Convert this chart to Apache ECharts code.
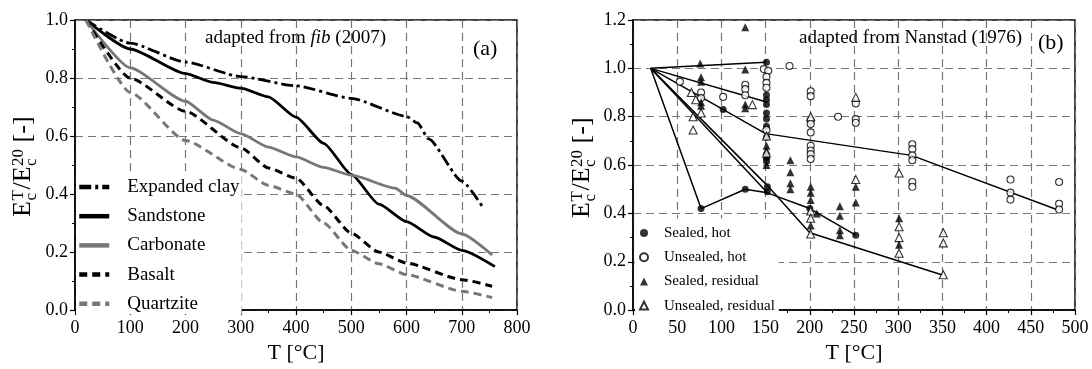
<!DOCTYPE html>
<html>
<head>
<meta charset="utf-8">
<script src="https://cdn.jsdelivr.net/npm/echarts@6/dist/echarts.min.js"></script>
<style>
  html, body { margin: 0; padding: 0; background: #fff; }
  #chart { width: 1092px; height: 369px; }
</style>
</head>
<body>
<div id="chart"></div>
<script>
// (a) adapted from fib (2007): [T in °C, Ec(T)/Ec(20)]
const expandedClay = [[20, 1], [100, 0.92], [200, 0.855], [300, 0.805], [400, 0.773], [500, 0.73], [600, 0.668], [620, 0.645], [640, 0.59], [700, 0.445], [737, 0.358]];
const sandstone = [[20, 1], [100, 0.9], [200, 0.815], [250, 0.785], [300, 0.765], [350, 0.735], [400, 0.665], [450, 0.575], [500, 0.468], [550, 0.365], [600, 0.305], [650, 0.252], [700, 0.206], [760, 0.15]];
const carbonate = [[20, 1], [100, 0.835], [200, 0.72], [250, 0.655], [300, 0.608], [350, 0.562], [400, 0.528], [450, 0.492], [500, 0.465], [580, 0.42], [600, 0.395], [700, 0.263], [755, 0.19]];
const basalt = [[20, 1], [100, 0.8], [200, 0.685], [300, 0.56], [350, 0.49], [400, 0.455], [450, 0.36], [500, 0.265], [550, 0.2], [600, 0.162], [700, 0.105], [755, 0.082]];
const quartzite = [[20, 1], [100, 0.75], [200, 0.585], [300, 0.485], [350, 0.43], [400, 0.4], [450, 0.3], [500, 0.206], [550, 0.16], [600, 0.122], [700, 0.065], [755, 0.043]];
const namesA = ['Expanded clay', 'Sandstone', 'Carbonate', 'Basalt', 'Quartzite'];

// (b) adapted from Nanstad (1976)
const sealedHot = [[77, 0.42], [102, 0.83], [127, 0.5], [151, 1.025], [151, 0.89], [151, 0.87], [151, 0.85], [151, 0.815], [151, 0.79], [151, 0.76], [151, 0.715], [151, 0.63], [151, 0.615], [152, 0.51], [152, 0.49], [200, 0.42], [252, 0.31]];
const unsealedHot = [[53, 0.945], [77, 0.9], [77, 0.877], [102, 0.882], [127, 0.932], [127, 0.914], [127, 0.889], [148, 0.997], [153, 0.99], [151, 0.965], [151, 0.94], [151, 0.92], [151, 0.745], [177, 1.01], [201, 0.905], [201, 0.885], [201, 0.785], [201, 0.77], [201, 0.735], [201, 0.68], [201, 0.66], [201, 0.645], [201, 0.625], [232, 0.8], [252, 0.855], [252, 0.79], [252, 0.775], [316, 0.686], [316, 0.666], [316, 0.64], [316, 0.62], [316, 0.53], [316, 0.51], [427, 0.54], [427, 0.486], [427, 0.457], [482, 0.53], [482, 0.44], [482, 0.416]];
const sealedResidual = [[76, 1.02], [77, 0.963], [77, 0.945], [77, 0.86], [77, 0.845], [127, 1.17], [127, 0.995], [127, 0.85], [127, 0.835], [151, 0.68], [151, 0.66], [151, 0.64], [151, 0.6], [178, 0.62], [178, 0.57], [178, 0.525], [178, 0.5], [201, 0.51], [201, 0.485], [201, 0.455], [201, 0.35], [208, 0.4], [234, 0.43], [234, 0.39], [234, 0.33], [234, 0.31], [252, 0.51], [252, 0.445], [301, 0.38], [301, 0.27]];
const unsealedResidual = [[66, 0.9], [71, 0.87], [68, 0.8], [68, 0.745], [77, 0.815], [135, 0.85], [151, 0.72], [151, 0.65], [201, 0.8], [201, 0.41], [201, 0.38], [201, 0.315], [252, 0.88], [252, 0.54], [301, 0.567], [301, 0.345], [301, 0.3], [301, 0.235], [351, 0.32], [351, 0.278], [351, 0.146]];
const namesB = ['Sealed, hot', 'Unsealed, hot', 'Sealed, residual', 'Unsealed, residual'];

// fitted lines in (b)
const fitTop = [[20, 1], [150, 1.025]];
const fitUpper = [[20, 1], [150, 0.862]];
const fitMiddle = [[20, 1], [150, 0.73], [315, 0.64], [480, 0.415]];
const fitSealedHot = [[20, 1], [77, 0.42], [127, 0.5], [152, 0.485], [200, 0.42], [252, 0.31]];
const fitDouble = [[20, 1], [152, 0.485]];
const fitResidual = [[20, 1], [152, 0.515], [200, 0.32], [350, 0.145]];

const xTicksA = [0, 800, 100];
const yTicksA = [0, 1, 0.2];
const xTicksB = [0, 500, 50];
const yTicksB = [0, 1.2, 0.2];

const SERIF = 'Liberation Serif';
const GRAY = '#777';

const chart = echarts.init(document.getElementById('chart'));

function xAxis(gridIndex, t) {
    return {
        type: 'value', gridIndex: gridIndex,
        min: t[0], max: t[1], interval: t[2],
        name: 'T [°C]', nameLocation: 'middle', nameGap: 31,
        nameTextStyle: { fontFamily: SERIF, fontSize: 22, color: '#000' },
        axisLine: { lineStyle: { color: '#000', width: 1.5 } },
        axisTick: { length: 5, lineStyle: { color: '#000', width: 1.2 } },
        minorTick: { show: true, splitNumber: 2, length: 3, lineStyle: { color: '#000', width: 1 } },
        axisLabel: { fontFamily: SERIF, fontSize: 18, color: '#000', margin: 9 },
        splitLine: { lineStyle: { color: GRAY, width: 1.2, type: [8, 5] } }
    };
}

function yAxis(gridIndex, t) {
    return {
        type: 'value', gridIndex: gridIndex,
        min: t[0], max: t[1], interval: t[2],
        axisLine: { show: true, lineStyle: { color: '#000', width: 1.5 } },
        axisTick: { show: true, length: 5, lineStyle: { color: '#000', width: 1.2 } },
        minorTick: { show: true, splitNumber: 2, length: 3, lineStyle: { color: '#000', width: 1 } },
        axisLabel: { fontFamily: SERIF, fontSize: 18, color: '#000', margin: 7, formatter: v => v.toFixed(1) },
        splitLine: { lineStyle: { color: GRAY, width: 1.2, type: [8, 5] } }
    };
}

function curve(name, data, color, type, width) {
    return {
        name: name, type: 'line', xAxisIndex: 0, yAxisIndex: 0, data: data,
        symbol: 'none', smooth: 0.2, smoothMonotone: 'x',
        itemStyle: { color: color },
        lineStyle: { color: color, width: width, type: type }
    };
}

function fit(data) {
    return {
        name: 'fit', type: 'line', xAxisIndex: 1, yAxisIndex: 1, data: data,
        symbol: 'none', z: 2,
        lineStyle: { color: '#000', width: 1.5 }, itemStyle: { color: '#000' }
    };
}

function points(name, data, symbol, filled, size) {
    return {
        name: name, type: 'scatter', xAxisIndex: 1, yAxisIndex: 1, data: data,
        symbol: symbol, symbolSize: size, z: 3,
        itemStyle: filled ? { color: '#000' } : { color: '#fff', borderColor: '#000', borderWidth: 1.1 }
    };
}

// rotated y-axis title E_c^T / E_c^20 [-]
function yTitle(x, y) {
    const big = '26px "' + SERIF + '"';
    const small = '17px "' + SERIF + '"';
    const t = (text, lx, ly, font) => ({
        type: 'text', x: lx, y: ly,
        style: { text: text, font: font, fill: '#000', align: 'left', verticalAlign: 'middle' }
    });
    return {
        type: 'group', x: x, y: y, rotation: Math.PI / 2, silent: true,
        children: [
            t('E', -50, 0, big),
            t('c', -33.6, 9, small),
            t('T', -33.6, -4, small),
            t('/', -22.5, 0, big),
            t('E', -15.3, 0, big),
            t('c', 1.1, 9, small),
            t('20', 1.1, -4, small),
            t('[-]', 24.6, 0, big)
        ]
    };
}

function note(x, y, text, size, rich) {
    return {
        type: 'text', x: x, y: y, silent: true,
        style: {
            text: text, fill: '#000', verticalAlign: 'middle',
            font: size + 'px "' + SERIF + '"',
            rich: rich
        }
    };
}

const noteRich = {
    n: { fontFamily: SERIF, fontSize: 19, color: '#000' },
    i: { fontFamily: SERIF, fontSize: 19, fontStyle: 'italic', color: '#000' }
};

chart.setOption({
    animation: false,
    backgroundColor: '#fff',
    textStyle: { fontFamily: SERIF, color: '#000' },
    grid: [
        { left: 75, right: 575, top: 20, bottom: 53, show: true, borderColor: '#000', borderWidth: 1.5, backgroundColor: '#fff' },
        { left: 633, right: 17, top: 20, bottom: 53, show: true, borderColor: '#000', borderWidth: 1.5, backgroundColor: '#fff' }
    ],
    xAxis: [xAxis(0, xTicksA), xAxis(1, xTicksB)],
    yAxis: [yAxis(0, yTicksA), yAxis(1, yTicksB)],
    legend: [
        {
            data: namesA,
            orient: 'vertical', left: 76, top: 174, padding: [3.5, 2, 1, 1], itemGap: 10.2,
            itemWidth: 30, itemHeight: 14, backgroundColor: '#fff', selectedMode: false,
            itemStyle: { opacity: 0 },
            lineStyle: { width: 4.5 },
            formatter: '{t|{name}}',
            textStyle: {
                fontFamily: SERIF, fontSize: 19, color: '#000',
                rich: { t: { fontFamily: SERIF, fontSize: 19, color: '#000', padding: [0, 0, 0, 13] } }
            }
        },
        {
            data: [
                { name: namesB[0], icon: 'circle' },
                { name: namesB[1], icon: 'circle' },
                { name: namesB[2], icon: 'triangle' },
                { name: namesB[3], icon: 'triangle' }
            ],
            orient: 'vertical', left: 635, top: 218.5, padding: [7, 4, 2, 4], itemGap: 9.2,
            itemWidth: 8, itemHeight: 8, backgroundColor: '#fff', selectedMode: false,
            formatter: '{t|{name}}',
            textStyle: {
                fontFamily: SERIF, fontSize: 15, color: '#000',
                rich: { t: { fontFamily: SERIF, fontSize: 15, color: '#000', padding: [0, 0, 0, 11] } }
            }
        }
    ],
    graphic: [
        yTitle(23, 167),
        yTitle(582, 168),
        note(205, 38, '{n|adapted from }{i|fib}{n| (2007)}', 19, noteRich),
        note(473, 49, '(a)', 22),
        note(799, 38, 'adapted from Nanstad (1976)', 19),
        note(1038, 43, '(b)', 22)
    ],
    series: [
        curve(namesA[0], expandedClay, '#000', [12, 4, 3, 4], 2.8),
        curve(namesA[1], sandstone, '#000', 'solid', 2.8),
        curve(namesA[2], carbonate, GRAY, 'solid', 2.8),
        curve(namesA[3], basalt, '#000', [8, 5], 3),
        curve(namesA[4], quartzite, GRAY, [8, 5], 3),
        fit(fitTop),
        fit(fitUpper),
        fit(fitMiddle),
        fit(fitSealedHot),
        fit(fitDouble),
        fit(fitResidual),
        points(namesB[0], sealedHot, 'circle', true, 7),
        points(namesB[1], unsealedHot, 'circle', false, 7),
        points(namesB[2], sealedResidual, 'triangle', true, 8),
        points(namesB[3], unsealedResidual, 'triangle', false, 8)
    ]
});
</script>
</body>
</html>
